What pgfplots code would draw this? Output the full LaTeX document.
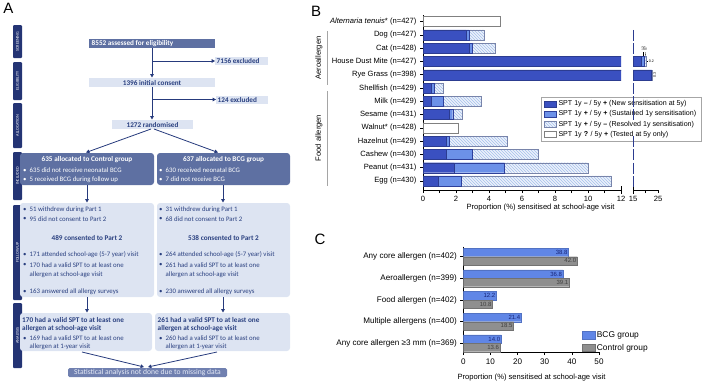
\documentclass[border=0pt]{standalone}
\usepackage{pgfplots}
\pgfplotsset{compat=1.18}
\usepackage{pgfplotstable}
\usepackage{fontspec}
\setmainfont{Liberation Sans}
\newfontfamily\flowfont{Carlito}
\usetikzlibrary{patterns,arrows.meta}

\definecolor{stage}{RGB}{36,52,116}
\definecolor{hdrbox}{RGB}{94,112,162}
\definecolor{lightbox}{RGB}{221,228,242}
\definecolor{flowtext}{RGB}{42,64,128}
\definecolor{arrowc}{RGB}{38,58,124}
\definecolor{endbox}{RGB}{112,128,176}
\definecolor{endtext}{RGB}{230,235,247}
\definecolor{newsens}{RGB}{58,80,192}
\definecolor{sustsens}{RGB}{108,145,232}
\definecolor{hatchbg}{RGB}{236,242,251}
\definecolor{hatchln}{RGB}{165,192,236}
\definecolor{baredge}{RGB}{120,132,170}
\definecolor{bcg}{RGB}{96,134,230}
\definecolor{ctrl}{RGB}{143,143,143}
\definecolor{bcgtext}{RGB}{22,36,120}
\definecolor{bracket}{RGB}{165,165,165}

\newcommand\fs[1]{\fontsize{#1}{#1}\selectfont}
\newcommand\ftxt{\flowfont\fs{6.8}}
\newcommand\fbold{\flowfont\bfseries\fs{7.2}}

% bullet line in the flow chart: x, y, text, colour
\newcommand\bline[4]{%
  \node[anchor=west,inner sep=0,text=#4,font=\ftxt] at (#1,#2) {•};
  \node[anchor=west,inner sep=0,text=#4,font=\ftxt,xshift=6.5pt] at (#1,#2) {#3};}
\newcommand\contline[4]{%
  \node[anchor=west,inner sep=0,text=#4,font=\ftxt,xshift=6.5pt] at (#1,#2) {#3};}
\newcommand\stagebox[3]{%
  \fill[stage,rounded corners=1pt] (13,#1) rectangle (22,#2);
  \node[rotate=90,text=white,font=\flowfont\fs{4.2}] at (17.5,{(#1+#2)/2}) {#3};}
% value label inside a bar segment: x end, row, text, colour, size
\newcommand\seg[5]{\node[rotate=90,anchor=south,inner sep=0.6pt,text=#4,font=\fs{#5}] at (axis cs:#1,#2) {#3};}

\pgfplotsset{
  swatchB/.style={legend image code/.code={\draw[##1] (0pt,-2.6pt) rectangle (12pt,2.6pt);}},
  swatchC/.style={legend image code/.code={\draw[##1] (0pt,-3.8pt) rectangle (13pt,3.8pt);}},
}

% proportion sensitised, by 1y / 5y skin prick test pattern
\pgfplotstableread{
row  new  sust res  only
0    0    0    0    4.7
1    2.6  0.2  0.9  0
2    2.8  0.2  1.4  0
3    18.3 1.2  0.7  0.2
4    22.4 0    0.3  0
5    0.5  0.2  0.5  0
6    0.5  0.7  2.3  0
7    1.6  0.2  0.6  0
8    0    0    0    2.1
9    1.4  0.2  3.5  0
10   1.4  1.6  4.0  0
11   1.9  3.0  5.1  0
12   0.9  1.4  9.1  0
}\sensB

% proportion sensitised by randomisation group
\pgfplotstableread{
row bcg  ctrl
0   38.8 42.0
1   36.8 39.1
2   12.2 10.8
3   21.4 18.5
4   14.0 13.6
}\sensC

\begin{document}
\begin{tikzpicture}
\begin{scope}[x=1pt,y=-1pt]
\path[use as bounding box] (0,0) rectangle (709,384);

% panel letters
\node[font=\fs{15}] at (8.5,8.5) {A};
\node[font=\fs{15}] at (316,11) {B};
\node[font=\fs{15}] at (320,239) {C};

% ---------- flow chart ----------
\stagebox{25}{58}{SCREENING}
\stagebox{62}{100}{ELIGIBILITY}
\stagebox{103}{148}{ALLOCATION}
\stagebox{152}{200}{INCLUDED}
\stagebox{205}{300}{FOLLOW UP}
\stagebox{303}{368}{ANALYSIS}

\tikzset{arr/.style={draw=arrowc,line width=0.8pt,-{Triangle[length=3.4pt,width=3.6pt]}}}

\fill[hdrbox] (89,39) rectangle (215,48);
\node[anchor=west,inner sep=0,text=white,font=\fbold] at (91.5,43.5) {8552 assessed for eligibility};
\draw[arr] (152,48) -- (152,77.5);
\draw[arr] (152,61) -- (215,61);
\fill[lightbox] (215,57) rectangle (268,65);
\node[anchor=west,inner sep=0,text=flowtext,font=\fbold] at (216.5,61) {7156 excluded};

\fill[lightbox] (89,78) rectangle (215,87);
\node[text=flowtext,font=\fbold,inner sep=0] at (152,82.5) {1396 initial consent};
\draw[arr] (152,87) -- (152,119.5);
\draw[arr] (152,99.5) -- (216,99.5);
\fill[lightbox] (216,96) rectangle (268,104);
\node[anchor=west,inner sep=0,text=flowtext,font=\fbold] at (217.5,100) {124 excluded};

\fill[lightbox] (112,120) rectangle (193,129);
\node[text=flowtext,font=\fbold,inner sep=0] at (152.5,124.5) {1272 randomised};
\draw[arr] (151,129) -- (86,152.5);
\draw[arr] (154,129) -- (218,152.5);

\fill[hdrbox,rounded corners=3pt] (20,153) rectangle (154,185);
\node[text=white,font=\fbold,inner sep=0] at (87,159.5) {635 allocated to Control group};
\bline{23}{170.5}{635 did not receive neonatal BCG}{white}
\bline{23}{179.5}{5 received BCG during follow up}{white}
\fill[hdrbox,rounded corners=3pt] (157,153) rectangle (290,185);
\node[text=white,font=\fbold,inner sep=0] at (223.5,159.5) {637 allocated to BCG group};
\bline{159}{170.5}{630 received neonatal BCG}{white}
\bline{159}{179.5}{7 did not receive BCG}{white}

\draw[arr] (87,185) -- (87,202.5);
\draw[arr] (223,185) -- (223,202.5);

\fill[lightbox,rounded corners=3pt] (20,203) rectangle (154,297);
\bline{23}{209.5}{51 withdrew during Part 1}{flowtext}
\bline{23}{219}{95 did not consent to Part 2}{flowtext}
\node[text=flowtext,font=\fbold,inner sep=0] at (87,237.5) {489 consented to Part 2};
\bline{23}{255}{171 attended school-age (5-7 year) visit}{flowtext}
\bline{23}{265}{170 had a valid SPT to at least one}{flowtext}
\contline{23}{274.5}{allergen at school-age visit}{flowtext}
\bline{23}{291.5}{163 answered all allergy surveys}{flowtext}

\fill[lightbox,rounded corners=3pt] (157,203) rectangle (290,297);
\bline{159}{209.5}{31 withdrew during Part 1}{flowtext}
\bline{159}{219}{68 did not consent to Part 2}{flowtext}
\node[text=flowtext,font=\fbold,inner sep=0] at (223.5,237.5) {538 consented to Part 2};
\bline{159}{255}{264 attended school-age (5-7 year) visit}{flowtext}
\bline{159}{265}{261 had a valid SPT to at least one}{flowtext}
\contline{159}{274.5}{allergen at school-age visit}{flowtext}
\bline{159}{291.5}{230 answered all allergy surveys}{flowtext}

\draw[arr] (87,297) -- (87,312.5);
\draw[arr] (223,297) -- (223,312.5);

\fill[lightbox,rounded corners=3pt] (20,313) rectangle (152,351);
\node[anchor=west,text=flowtext,font=\fbold,inner sep=0] at (22,319.5) {170 had a valid SPT to at least one};
\node[anchor=west,text=flowtext,font=\fbold,inner sep=0] at (22,328.5) {allergen at school-age visit};
\bline{23}{338.5}{169 had a valid SPT to at least one}{flowtext}
\contline{23}{347}{allergen at 1-year visit}{flowtext}

\fill[lightbox,rounded corners=3pt] (155,313) rectangle (290,351);
\node[anchor=west,text=flowtext,font=\fbold,inner sep=0] at (157.5,319.5) {261 had a valid SPT to at least one};
\node[anchor=west,text=flowtext,font=\fbold,inner sep=0] at (157.5,328.5) {allergen at school-age visit};
\bline{159}{338.5}{260 had a valid SPT to at least one}{flowtext}
\contline{159}{347}{allergen at 1-year visit}{flowtext}

\draw[arr] (82,352) -- (144,367);
\draw[arr] (217,352) -- (148,367);
\fill[endbox,rounded corners=1.5pt] (68,368) rectangle (227,377);
\node[text=endtext,font=\flowfont\fs{7.6},inner sep=0] at (147.5,372.5) {Statistical analysis not done due to missing data};

% ---------- panel B decorations ----------
\draw[bracket,line width=1pt] (327,31) -- (327,85);
\draw[bracket,line width=1pt] (327,91) -- (327,186);
\node[rotate=90,font=\fs{7.6}] at (319,58) {Aeroallergen};
\node[rotate=90,font=\fs{7.6}] at (319,138) {Food allergen};
\draw[line width=0.8pt] (621,186) -- (621,194);
\draw[line width=0.8pt] (633,186) -- (633,194);
\node[font=\fs{7.6}] at (540.5,208) {Proportion (\%) sensitised at school-age visit};

% ---------- panel C axis title ----------
\node[font=\fs{7.6}] at (531.5,377.5) {Proportion (\%) sensitised at school-age visit};
\end{scope}

% ---------- panel B, 0 to 12 ----------
\begin{axis}[
  at={(423pt,-190pt)}, anchor=south west,
  scale only axis, width=198pt, height=175pt,
  xbar stacked, bar width=10pt,
  xmin=0, xmax=12, ymin=-0.5, ymax=12.68, y dir=reverse,
  axis x line*=bottom, axis y line*=left,
  xtick={0,2,...,12}, minor xtick={1,3,...,11},
  ytick={0,...,12},
  yticklabels={{\textit{Alternaria tenuis}* (n=427)},{Dog (n=427)},{Cat (n=428)},{House Dust Mite (n=427)},{Rye Grass (n=398)},{Shellfish (n=429)},{Milk (n=429)},{Sesame (n=431)},{Walnut* (n=428)},{Hazelnut (n=429)},{Cashew (n=430)},{Peanut (n=431)},{Egg (n=430)}},
  tick align=outside, major tick length=3pt, minor tick length=3pt,
  tick style={black,line width=0.7pt}, axis line style={line width=0.8pt},
  ticklabel style={font=\fs{7.6}},
  /pgf/number format/assume math mode=true,
  clip mode=individual,
  legend style={at={(0.596,0.531)}, anchor=north west, draw=gray!70, font=\fs{7.1},
    inner xsep=3pt, inner ysep=1.5pt, row sep=-0.6pt, cells={anchor=west}},
]
\addplot[fill=newsens, draw=newsens!75!black, line width=0.3pt, swatchB] table[x=new,y=row]{\sensB};
\addlegendentry{SPT 1y \textbf{--} / 5y \textbf{+} (New sensitisation at 5y)}
\addplot[fill=sustsens, draw=newsens!80!black, line width=0.3pt, swatchB] table[x=sust,y=row]{\sensB};
\addlegendentry{SPT 1y \textbf{+} / 5y \textbf{+} (Sustained 1y sensitisation)}
\addplot[fill=hatchbg, draw=baredge, line width=0.3pt, postaction={pattern=north west lines, pattern color=hatchln}, swatchB] table[x=res,y=row]{\sensB};
\addlegendentry{SPT 1y \textbf{+} / 5y \textbf{--} (Resolved 1y sensitisation)}
\addplot[fill=white, draw=gray, line width=0.3pt, swatchB] table[x=only,y=row]{\sensB};
\addlegendentry{SPT 1y \textbf{?} / 5y \textbf{+} (Tested at 5y only)}

\seg{4.7}{0}{4.7}{black}{4}
\seg{2.6}{1}{2.6}{white}{4}\seg{2.8}{1}{0.2}{white}{2.8}\seg{3.7}{1}{0.9}{black}{4}
\seg{2.8}{2}{2.8}{white}{4}\seg{3.0}{2}{0.2}{white}{2.8}\seg{4.4}{2}{1.4}{black}{4}
\seg{0.5}{5}{0.5}{white}{4}\seg{0.7}{5}{0.2}{white}{2.8}\seg{1.2}{5}{0.5}{black}{4}
\seg{0.5}{6}{0.5}{white}{4}\seg{1.2}{6}{0.7}{white}{4}\seg{3.5}{6}{2.3}{black}{4}
\seg{1.6}{7}{1.6}{white}{4}\seg{1.8}{7}{0.2}{white}{2.8}\seg{2.4}{7}{0.6}{black}{4}
\seg{2.1}{8}{2.1}{black}{4}
\seg{1.4}{9}{1.4}{white}{4}\seg{1.6}{9}{0.2}{white}{2.8}\seg{5.1}{9}{3.5}{black}{4}
\seg{1.4}{10}{1.4}{white}{4}\seg{3.0}{10}{1.6}{white}{4}\seg{7.0}{10}{4.0}{black}{4}
\seg{1.9}{11}{1.9}{white}{4}\seg{4.9}{11}{3.0}{white}{4}\seg{10.0}{11}{5.1}{black}{4}
\seg{0.9}{12}{0.9}{white}{4}\seg{2.3}{12}{1.4}{white}{4}\seg{11.4}{12}{9.1}{black}{4}
\end{axis}

% ---------- panel B, 15 to 25 ----------
\begin{axis}[
  at={(633pt,-190pt)}, anchor=south west,
  scale only axis, width=25pt, height=175pt,
  xbar stacked, bar width=10pt,
  xmin=15, xmax=25, ymin=-0.5, ymax=12.68, y dir=reverse,
  axis x line*=bottom, axis y line=none,
  xtick={15,20,25}, xticklabels={15,,25}, ytick=\empty,
  tick align=outside, major tick length=3pt,
  tick style={black,line width=0.7pt}, axis line style={line width=0.8pt},
  ticklabel style={font=\fs{7.6}},
  /pgf/number format/assume math mode=true,
  clip mode=individual,
]
\addplot[fill=newsens, draw=newsens!75!black, line width=0.3pt] table[x=new,y=row]{\sensB};
\addplot[fill=sustsens, draw=newsens!80!black, line width=0.3pt] table[x=sust,y=row]{\sensB};
\addplot[fill=hatchbg, draw=baredge, line width=0.3pt, postaction={pattern=north west lines, pattern color=hatchln}] table[x=res,y=row]{\sensB};
\addplot[fill=white, draw=gray, line width=0.3pt] table[x=only,y=row]{\sensB};
\seg{18.3}{3}{18.3}{white}{3.6}
\seg{22.4}{4}{22.4}{white}{3.6}
\node[rotate=90,anchor=north,inner sep=0.6pt,font=\fs{3.6}] at (axis cs:22.8,4) {0.3};
\node[rotate=90,anchor=west,inner sep=0.4pt,font=\fs{3.4}] at (axis cs:19.0,2.25) {1.2};
\node[rotate=90,anchor=west,inner sep=0.4pt,font=\fs{3.4}] at (axis cs:20.0,2.25) {0.7};
\draw[line width=0.3pt] (axis cs:19.0,2.3) -- (axis cs:19.0,2.62);
\draw[line width=0.3pt] (axis cs:20.0,2.3) -- (axis cs:19.9,2.62);
\draw[line width=0.3pt] (axis cs:20.4,3) -- (axis cs:21.1,3);
\node[anchor=west,inner sep=0.4pt,font=\fs{3.6}] at (axis cs:21.1,3) {0.2};
\end{axis}

% ---------- panel C ----------
\begin{axis}[
  at={(463.3pt,-352pt)}, anchor=south west,
  scale only axis, width=135.7pt, height=105.3pt,
  xbar, bar width=8.4pt,
  xmin=0, xmax=50, ymin=-0.46, ymax=4.40, y dir=reverse,
  axis x line*=bottom, axis y line*=left,
  xtick={0,10,...,50}, ytick={0,...,4},
  yticklabels={{Any core allergen (n=402)},{Aeroallergen (n=399)},{Food allergen (n=402)},{Multiple allergens (n=400)},{Any core allergen ≥3 mm (n=369)}},
  tick align=outside, major tick length=3pt,
  tick style={black,line width=0.7pt}, axis line style={line width=0.8pt},
  ticklabel style={font=\fs{8.1}},
  /pgf/number format/assume math mode=true,
  clip mode=individual,
  legend style={at={(0.87,0.215)}, anchor=north west, draw=none, fill=none, font=\fs{8.4},
    inner sep=0pt, row sep=1pt, cells={anchor=west}},
  nodes near coords={\pgfmathprintnumber[fixed,fixed zerofill,precision=1]{\pgfplotspointmeta}},
  point meta=x,
]
\addplot[fill=bcg, draw=bcg!85!black, line width=0.3pt, bar shift=4.2pt, swatchC,
  every node near coord/.append style={anchor=east, font=\fs{6}, text=bcgtext, inner sep=1pt}]
  table[x=bcg,y=row]{\sensC};
\addlegendentry{BCG group}
\addplot[fill=ctrl, draw=ctrl!80!black, line width=0.3pt, bar shift=-4.2pt, swatchC,
  every node near coord/.append style={anchor=east, font=\fs{6}, text=black!75, inner sep=1pt}]
  table[x=ctrl,y=row]{\sensC};
\addlegendentry{Control group}
\end{axis}
\end{tikzpicture}
\end{document}
